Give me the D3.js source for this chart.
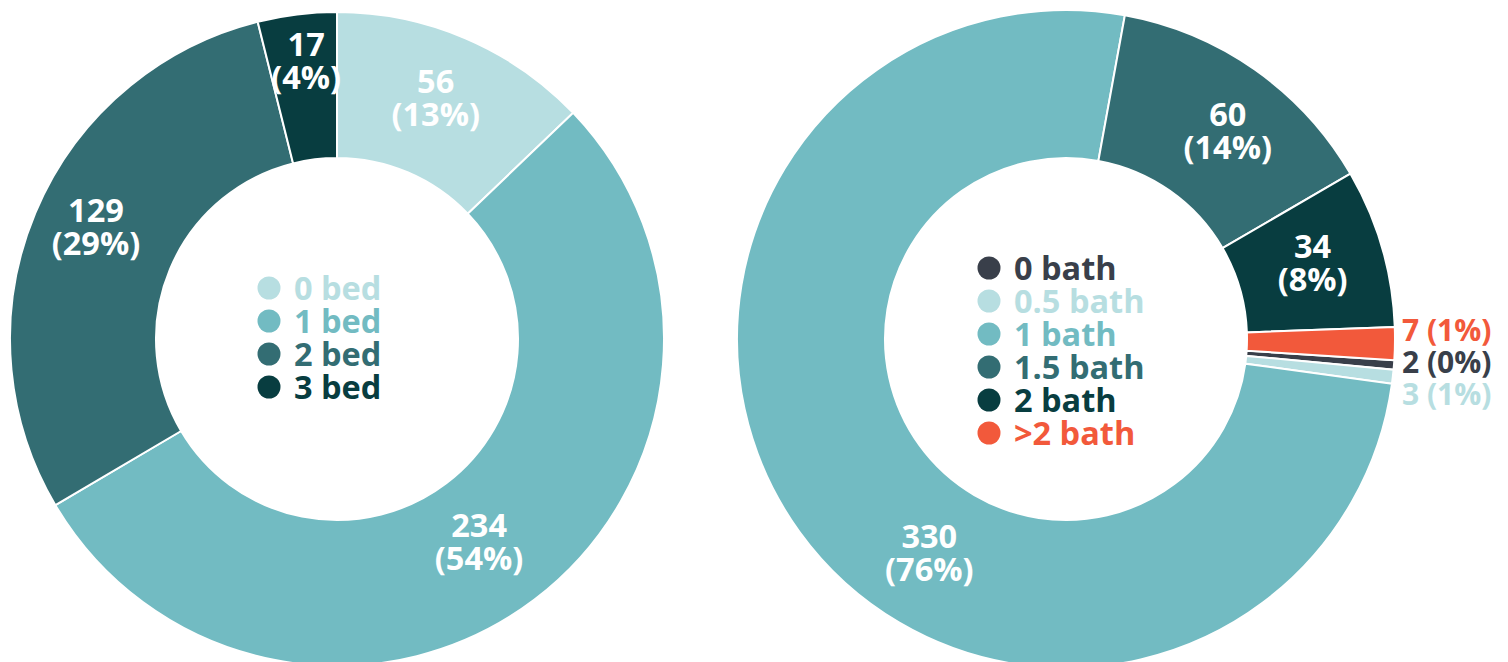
<!DOCTYPE html>
<html>
<head>
<meta charset="utf-8">
<script src="https://cdn.jsdelivr.net/npm/d3@7"></script>
<style>
  body { margin: 0; background: #fff; }
  svg text { font-family: "Open Sans", sans-serif; font-weight: 700; }
</style>
</head>
<body>
<script>
let w = 1508;
let h = 662;

// bedrooms
let bedLabels = ["0 bed", "1 bed", "2 bed", "3 bed"];
let bedValues = [56, 234, 129, 17];
let bedPct = [13, 54, 29, 4];
let bedColors = ["#b7dee1", "#72bbc2", "#336d73", "#083d40"];

// bathrooms
let bathLabels = ["0 bath", "0.5 bath", "1 bath", "1.5 bath", "2 bath", ">2 bath"];
let bathValues = [2, 3, 330, 60, 34, 7];
let bathPct = [0, 1, 76, 14, 8, 1];
let bathColors = ["#393f4a", "#b7dee1", "#72bbc2", "#336d73", "#083d40", "#f2593b"];

let fontSize = 32.5;
let lineH = 33;

let svg = d3.select("body").append("svg").attr("width", w).attr("height", h);

function donut(cfg) {
  let data = cfg.labels.map((l, i) => ({
    label: l, value: cfg.values[i], pct: cfg.pct[i], color: cfg.colors[i]
  }));
  let total = d3.sum(data, d => d.value);
  let start = cfg.startDeg * Math.PI / 180;

  let pie = d3.pie().sort(null).value(d => d.value)
    .startAngle(start).endAngle(start + 2 * Math.PI);
  let arc = d3.arc().innerRadius(cfg.r).outerRadius(cfg.R);
  let arcs = pie(data);

  let g = svg.append("g").attr("transform", `translate(${cfg.cx},${cfg.cy})`);

  g.selectAll("path.slice")
    .data(arcs)
    .enter()
    .append("path")
    .attr("class", "slice")
    .attr("d", arc)
    .attr("fill", d => d.data.color)
    .attr("stroke", "#fff")
    .attr("stroke-width", 2);

  // labels inside the ring (nudge = [turn in degrees, radius])
  let big = arcs.filter(d => d.data.value / total >= 0.02);
  let inner = g.selectAll("text.val")
    .data(big)
    .enter()
    .append("text")
    .attr("class", "val")
    .attr("text-anchor", "middle")
    .attr("fill", "#fff")
    .attr("font-size", fontSize)
    .attr("transform", d => {
      let nd = cfg.nudge[d.data.label] || [0, cfg.labelR];
      let mid = (d.startAngle + d.endAngle) / 2 + nd[0] * Math.PI / 180;
      let p = d3.arc().innerRadius(nd[1]).outerRadius(nd[1])
        .centroid({ startAngle: mid, endAngle: mid });
      return `translate(${p[0]},${p[1]})`;
    });
  inner.append("tspan").attr("x", 0).attr("y", -lineH / 2).attr("dy", "0.36em").text(d => d.data.value);
  inner.append("tspan").attr("x", 0).attr("y", lineH / 2).attr("dy", "0.36em").text(d => "(" + d.data.pct + "%)");

  // small slices: labels outside, spread apart
  let small = arcs.filter(d => d.data.value / total < 0.02)
    .map(d => {
      let mid = (d.startAngle + d.endAngle) / 2;
      return { d: d, y: -Math.cos(mid) * cfg.R };
    })
    .sort((a, b) => a.y - b.y);
  let meanY = d3.mean(small, s => s.y);
  small.forEach((s, i) => { s.ly = meanY + (i - (small.length - 1) / 2) * 32; });

  g.selectAll("text.out")
    .data(small)
    .enter()
    .append("text")
    .attr("class", "out")
    .attr("x", cfg.R + 7)
    .attr("y", s => s.ly)
    .attr("dy", "0.36em")
    .attr("font-size", fontSize - 2.5)
    .attr("fill", s => s.d.data.color)
    .text(s => s.d.data.value + " (" + s.d.data.pct + "%)");

  // legend in the hole
  let n = data.length;
  let leg = g.selectAll("g.leg")
    .data(data)
    .enter()
    .append("g")
    .attr("class", "leg")
    .attr("transform", (d, i) => `translate(${cfg.legendDx},${cfg.legendDy + (i - (n - 1) / 2) * lineH})`);
  leg.append("circle").attr("r", 11.5).attr("fill", d => d.color);
  leg.append("text")
    .attr("x", 25)
    .attr("dy", "0.36em")
    .attr("font-size", fontSize)
    .attr("fill", d => d.color)
    .text(d => d.label);
}

donut({
  labels: bedLabels, values: bedValues, pct: bedPct, colors: bedColors,
  cx: 337, cy: 339, R: 327, r: 181, labelR: 262, startDeg: 0,
  legendDx: -68, legendDy: -1.5,
  nudge: { "3 bed": [0.7, 280], "0 bed": [-0.9, 261], "2 bed": [2.3, 266], "1 bed": [2.2, 248] }
});

donut({
  labels: bathLabels, values: bathValues, pct: bathPct, colors: bathColors,
  cx: 1066, cy: 339, R: 329, r: 181, labelR: 258, startDeg: 93.7,
  legendDx: -77, legendDy: 11.5,
  nudge: { "1 bath": [-21.5, 254], "1.5 bath": [2.7, 264], "2 bath": [-1, 258] }
});
</script>
</body>
</html>
